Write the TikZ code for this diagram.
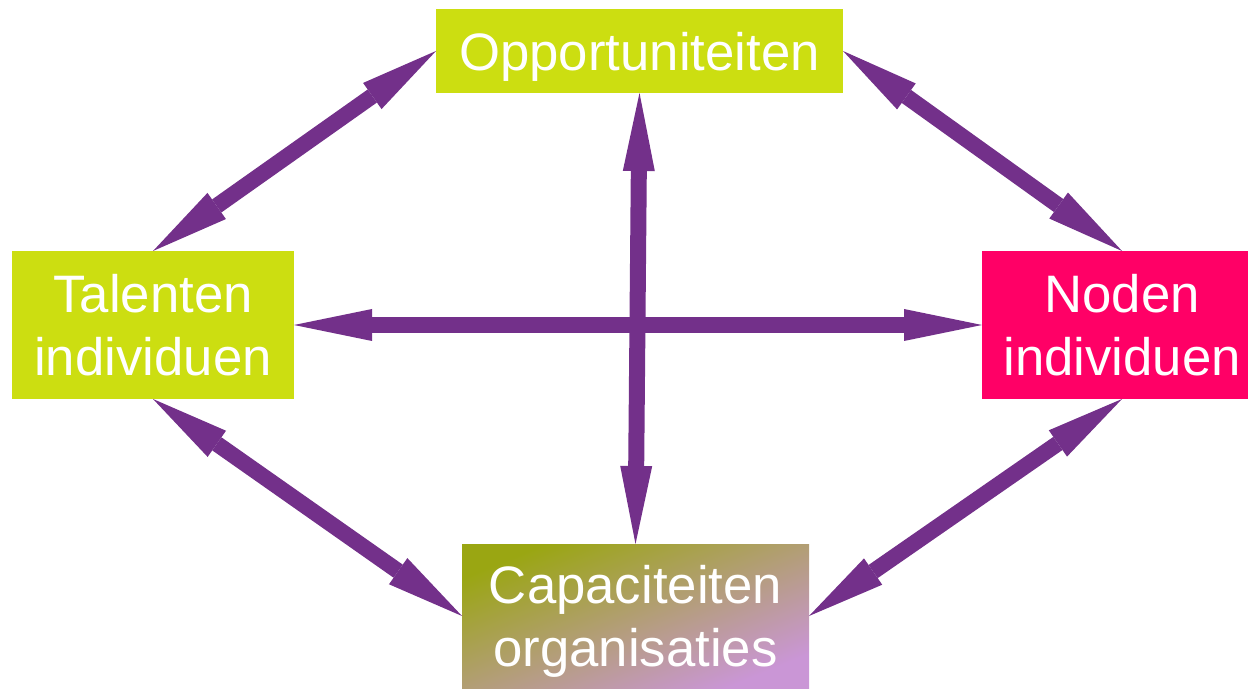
\documentclass[tikz,border=0pt]{standalone}
\usepackage{fontspec}
\setmainfont{Liberation Sans}
\usetikzlibrary{arrows.meta}

\definecolor{vertclair}{RGB}{204,222,17}
\definecolor{rosevif}{RGB}{255,0,102}
\definecolor{violet}{RGB}{115,48,138}
\definecolor{olive1}{RGB}{154,166,18}
\definecolor{lavande}{RGB}{202,150,214}

\begin{document}
\begin{tikzpicture}[
        boite/.style={rectangle, inner sep=0pt, outer sep=0pt, text=white, align=center,
            font=\fontsize{15pt}{18pt}\selectfont, text depth=0pt},
        vert/.style={boite, fill=vertclair},
        rose/.style={boite, fill=rosevif},
        degrade/.style={boite, left color=olive1, right color=lavande, shading angle=22.5},
        fleche/.style={draw=violet, line width=1.6mm,
            {Triangle[length=7.8mm,width=3.2mm,line width=0pt]}-{Triangle[length=7.8mm,width=3.2mm,line width=0pt]}},
    ]
    \useasboundingbox (0,0) rectangle (12.48,6.90);
    \clip (0,0) rectangle (12.48,6.90);
    % boites
    \node[vert, minimum width=4.07cm, minimum height=0.84cm] (opp) at (6.395,6.39) {Opportuniteiten};
    \node[vert, minimum width=2.82cm, minimum height=1.48cm] (talent) at (1.53,3.65) {Talenten\\individuen};
    \node[rose, minimum width=2.80cm, minimum height=1.48cm] (noden) at (11.22,3.65) {Noden\\individuen};
    \node[degrade, minimum width=3.47cm, minimum height=1.44cm] (capa) at (6.355,0.74) {Capaciteiten\\organisaties};
    % fleches
    \draw[fleche] (talent.north) -- (opp.west);
    \draw[fleche] (opp.east) -- (noden.north);
    \draw[fleche] (talent.south) -- (capa.west);
    \draw[fleche] (noden.south) -- (capa.east);
    \draw[fleche] (opp.south) -- (capa.north);
    \draw[fleche] (talent.east) -- (noden.west);
\end{tikzpicture}
\end{document}
